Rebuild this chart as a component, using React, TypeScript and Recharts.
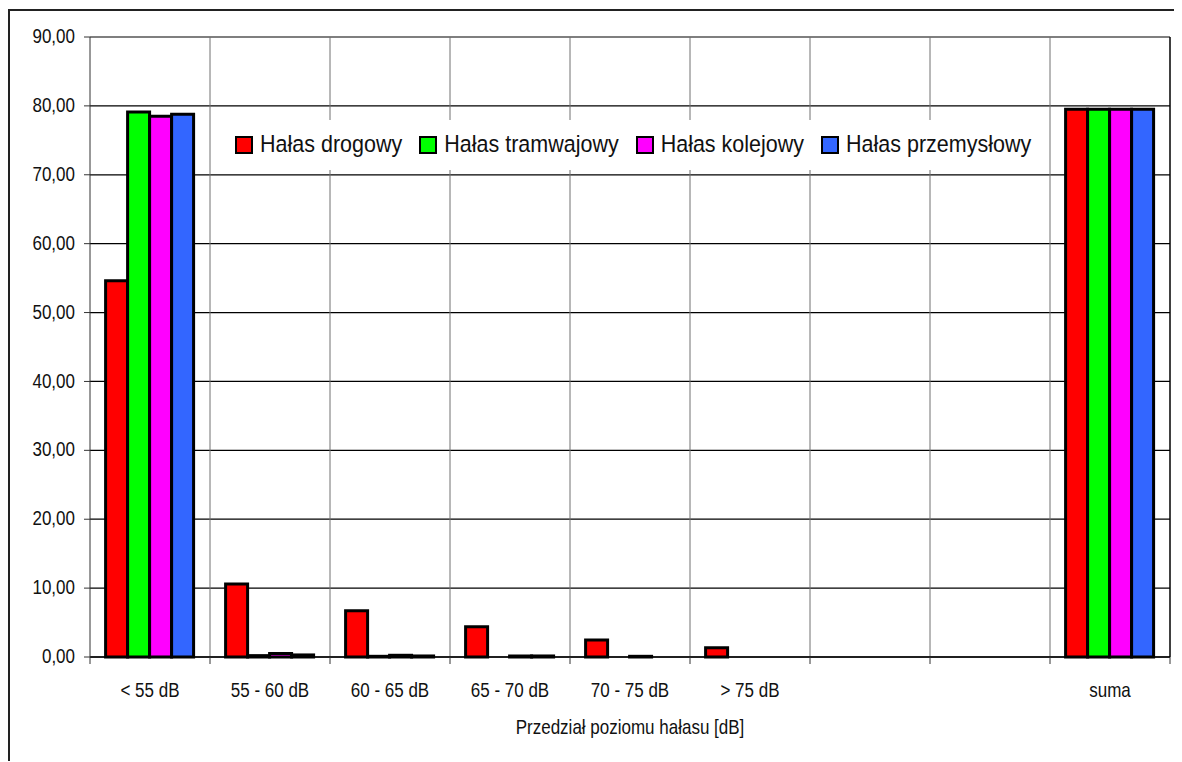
import React from 'react';
import { BarChart, Bar, XAxis, YAxis, CartesianGrid, Legend, Label } from 'recharts';

// Noise-level bands on the category axis (two unused slots before the total)
const categories = ['< 55 dB', '55 - 60 dB', '60 - 65 dB', '65 - 70 dB', '70 - 75 dB', '> 75 dB', '', '', 'suma'];

// Share of the population per band, in percent
const halasDrogowy = [54.6, 10.6, 6.7, 4.4, 2.45, 1.35, null, null, 79.5];
const halasTramwajowy = [79.1, 0.2, 0.1, 0, 0, 0, null, null, 79.5];
const halasKolejowy = [78.5, 0.5, 0.25, 0.15, 0.1, 0, null, null, 79.5];
const halasPrzemyslowy = [78.8, 0.3, 0.15, 0.15, 0, 0, null, null, 79.5];

const seriesNames = ['Hałas drogowy', 'Hałas tramwajowy', 'Hałas kolejowy', 'Hałas przemysłowy'];
const seriesKeys = ['drogowy', 'tramwajowy', 'kolejowy', 'przemyslowy'];
const seriesColors = ['#FF0000', '#00FF00', '#FF00FF', '#3366FF'];

const yTicks = [0, 10, 20, 30, 40, 50, 60, 70, 80, 90];
const xTitle = 'Przedział poziomu hałasu [dB]';

const data = categories.map((name, i) => ({
  name,
  drogowy: halasDrogowy[i],
  tramwajowy: halasTramwajowy[i],
  kolejowy: halasKolejowy[i],
  przemyslowy: halasPrzemyslowy[i],
}));

const FONT = '"Liberation Sans", Arial, Helvetica, sans-serif';
const CHART_W = 1172;
const CHART_H = 751;
const MARGIN = { top: 26, right: 12, bottom: 0, left: 0 };
const Y_W = 80;
const X_H = 105;
const PLOT_W = CHART_W - MARGIN.left - MARGIN.right - Y_W;
const SLOT = PLOT_W / categories.length;
const PLOT_RIGHT = MARGIN.left + Y_W + PLOT_W;
const TEXT_STRETCH = 1.22;

const fmt = (v: number) => v.toFixed(2).replace('.', ',');

const XTick = (props: any) => {
  const { x, y, payload, index } = props;
  const left = x - SLOT / 2;
  const right = x + SLOT / 2;
  return (
    <g>
      <line x1={left} x2={left} y1={y} y2={y + 7} stroke="#333" strokeWidth={1} />
      {index === categories.length - 1 && (
        <line x1={right} x2={right} y1={y} y2={y + 7} stroke="#333" strokeWidth={1} />
      )}
      <text
        transform={`translate(${x},${y + 40}) scale(1,${TEXT_STRETCH})`}
        textAnchor="middle"
        fontFamily={FONT}
        fontSize={17}
        fill="#111"
      >
        {payload.value}
      </text>
    </g>
  );
};

const YTick = (props: any) => {
  const { x, y, payload } = props;
  return (
    <text
      transform={`translate(${x},${y}) scale(1,${TEXT_STRETCH})`}
      y={5}
      textAnchor="end"
      fontFamily={FONT}
      fontSize={17}
      fill="#111"
    >
      {fmt(payload.value)}
    </text>
  );
};

const XTitle = (props: any) => {
  const { viewBox } = props;
  const cx = viewBox.x + viewBox.width / 2;
  return (
    <text
      transform={`translate(${cx},${viewBox.y + 77}) scale(1,${TEXT_STRETCH})`}
      textAnchor="middle"
      fontFamily={FONT}
      fontSize={17}
      fill="#111"
    >
      {xTitle}
    </text>
  );
};

const LegendBox = () => (
  <div
    style={{
      display: 'flex',
      alignItems: 'center',
      height: '100%',
      paddingLeft: 20,
      boxSizing: 'border-box',
      fontFamily: FONT,
      fontSize: 21.5,
      color: '#111',
      whiteSpace: 'nowrap',
    }}
  >
    {seriesNames.map((n, i) => (
      <div key={n} style={{ display: 'flex', alignItems: 'center', marginRight: 17 }}>
        <span
          style={{
            display: 'inline-block',
            width: 18,
            height: 18,
            boxSizing: 'border-box',
            border: '2px solid #000',
            background: seriesColors[i],
            marginRight: 7,
          }}
        />
        <span style={{ display: 'inline-block', transform: 'scaleY(1.08)', lineHeight: 1 }}>{n}</span>
      </div>
    ))}
  </div>
);

const hLine = (p: any) => (
  <line key={p.key} x1={p.x1} y1={p.y1} x2={p.x2} y2={p.y2} stroke="#000" strokeWidth={1.2} />
);

const vLine = (p: any) => {
  const isEdge = Math.abs(p.x1 - PLOT_RIGHT) < 1;
  return (
    <line
      key={p.key}
      x1={p.x1}
      y1={p.y1}
      x2={p.x2}
      y2={p.y2}
      stroke={isEdge ? '#000' : '#707070'}
      strokeWidth={isEdge ? 1.5 : 1}
    />
  );
};

export default function App() {
  return (
    <div
      style={{
        position: 'relative',
        top: 1,
        width: CHART_W,
        height: CHART_H,
        borderLeft: '2px solid #222',
        borderTop: '2px solid #222',
        background: '#fff',
      }}
    >
      <BarChart
        width={CHART_W}
        height={CHART_H}
        data={data}
        margin={MARGIN}
        barCategoryGap="13%"
        barGap={0}
      >
        <CartesianGrid
          horizontal={hLine}
          vertical={vLine}
          verticalCoordinatesGenerator={({ offset }: any) =>
            categories.map((_, i) => offset.left + ((i + 1) * offset.width) / categories.length)
          }
        />
        <XAxis
          dataKey="name"
          interval={0}
          height={X_H}
          tickLine={false}
          tickSize={0}
          tickMargin={0}
          axisLine={{ stroke: '#000', strokeWidth: 1.5 }}
          tick={<XTick />}
        >
          <Label content={<XTitle />} />
        </XAxis>
        <YAxis
          width={Y_W}
          domain={[0, 90]}
          ticks={yTicks}
          interval={0}
          tickSize={6}
          tickMargin={9}
          tickLine={{ stroke: '#333' }}
          axisLine={{ stroke: '#333' }}
          tick={<YTick />}
        />
        <Legend
          verticalAlign="middle"
          align="center"
          layout="horizontal"
          wrapperStyle={{ top: 109, left: 205, width: 833, height: 50, background: '#fff' }}
          content={() => <LegendBox />}
        />
        {seriesKeys.map((k, i) => (
          <Bar
            key={k}
            dataKey={k}
            name={seriesNames[i]}
            fill={seriesColors[i]}
            stroke="#000"
            strokeWidth={3}
            isAnimationActive={false}
          />
        ))}
      </BarChart>
    </div>
  );
}
